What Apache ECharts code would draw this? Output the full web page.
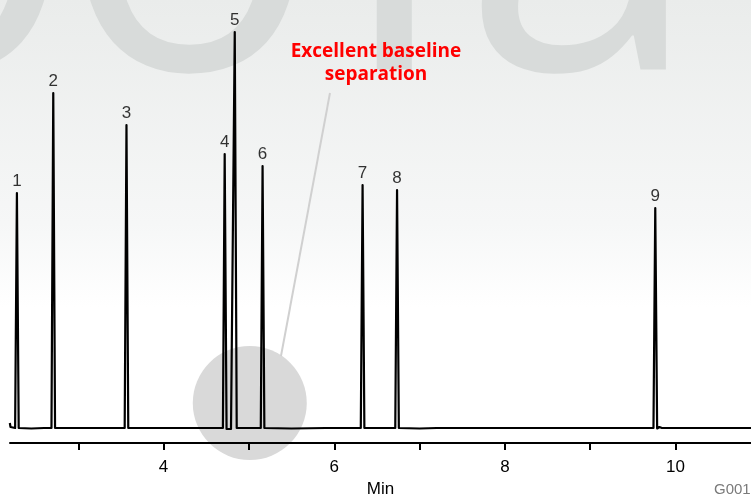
<!DOCTYPE html>
<html>
<head>
<meta charset="utf-8">
<script src="https://cdn.jsdelivr.net/npm/echarts@6/dist/echarts.min.js"></script>
<style>
  html, body { margin: 0; padding: 0; background: #fff; }
  #main { width: 751px; height: 496px; }
</style>
</head>
<body>
<div id="main"></div>
<script>
// peaks (retention time in min, height in detector units)
var peakNames = ['1', '2', '3', '4', '5', '6', '7', '8', '9'];
var peakTimes = [2.281, 2.707, 3.565, 4.716, 4.834, 5.160, 6.332, 6.736, 9.762];
var peakHeights = [235, 335, 303, 274, 396, 262, 243, 238, 220];

// detector trace [min, signal]
var trace = [
    [2.198, 5], [2.206, 1], [2.225, 0], [2.260, 0], [2.281, 235], [2.302, 0],
    [2.450, -0.5], [2.600, 0], [2.686, 0], [2.707, 335], [2.728, 0],
    [3.100, 0], [3.544, 0], [3.565, 303], [3.586, 0],
    [4.200, 0], [4.695, 0], [4.716, 274], [4.738, -1], [4.790, -1],
    [4.813, 0], [4.834, 396], [4.857, 0], [5.000, 0],
    [5.139, 0], [5.160, 262], [5.181, 0], [5.500, -0.5], [5.900, 0],
    [6.311, 0], [6.332, 243], [6.353, 0], [6.500, 0], [6.520, 1.5], [6.540, 0],
    [6.715, 0], [6.736, 238], [6.757, 0], [7.000, -0.5], [7.200, 0], [7.220, 1.5], [7.240, 0],
    [8.500, 0], [9.741, 0], [9.762, 220], [9.784, -0.5], [9.810, 1], [9.840, 0],
    [10.884, 0]
];

// grey highlight circle and its leader line
var highlight = [[5.01, 25]];
var calloutLine = [[5.95, 335], [5.376, 72]];

var tickValues = [3, 4, 5, 6, 7, 8, 9, 10];
var labelValues = [4, 6, 8, 10];

var myChart = echarts.init(document.getElementById('main'));

var peakData = [];
for (var i = 0; i < peakTimes.length; i++) {
    peakData.push([peakTimes[i], peakHeights[i], peakNames[i]]);
}

var wm = '400 430px "Open Sans"';
var wmColor = '#d8dbda';

var option = {
    animation: false,
    backgroundColor: '#fff',
    graphic: [
        {
            type: 'rect', z: -100, silent: true,
            shape: { x: 0, y: 0, width: 751, height: 496 },
            style: {
                fill: new echarts.graphic.LinearGradient(0, 0, 0, 1, [
                    { offset: 0, color: '#eaeceb' },
                    { offset: 0.45, color: '#f6f7f7' },
                    { offset: 0.62, color: '#ffffff' },
                    { offset: 1, color: '#ffffff' }
                ])
            }
        },
        { type: 'text', z: -90, silent: true, left: -185, top: -268,
          style: { text: 'o', font: wm, fill: wmColor } },
        { type: 'text', z: -90, silent: true, left: 60, top: -268,
          style: { text: 'o', font: wm, fill: wmColor } },
        { type: 'text', z: -90, silent: true, left: 340, top: -268,
          style: { text: 'r', font: wm, fill: wmColor } },
        { type: 'text', z: -90, silent: true, left: 462, top: -268,
          style: { text: 'a', font: wm, fill: wmColor } },
        {
            type: 'text', z: 10, silent: true,
            style: {
                text: 'Excellent baseline\nseparation',
                textAlign: 'center',
                font: 'bold 19px "Open Sans"', lineHeight: 23, fill: '#ff0000'
            },
            position: [376, 40]
        },
        {
            type: 'text', z: 10, left: 714, top: 482,
            style: { text: 'G00123', font: '15px "Liberation Sans"', fill: '#7a7a7a' }
        }
    ],
    grid: { left: 10, right: 0, top: 28, bottom: 53, outerBoundsMode: 'none' },
    xAxis: {
        type: 'value',
        min: 2.2,
        max: 10.884,
        name: 'Min',
        nameLocation: 'middle',
        nameGap: 38,
        nameTextStyle: { fontSize: 17, color: '#000', fontFamily: 'Liberation Sans' },
        axisLine: { onZero: false, lineStyle: { color: '#000', width: 2 } },
        axisTick: { customValues: tickValues, length: 7, lineStyle: { color: '#000', width: 2 } },
        axisLabel: {
            customValues: labelValues, fontSize: 17, color: '#000',
            fontFamily: 'Liberation Sans', margin: 16
        },
        splitLine: { show: false }
    },
    yAxis: { type: 'value', min: -15, max: 400, show: false },
    series: [
        {
            name: 'highlight', type: 'scatter', z: -1, clip: false, silent: true,
            symbolSize: 114, itemStyle: { color: '#d9d9d9', opacity: 1 },
            data: highlight
        },
        {
            name: 'callout', type: 'line', z: 1, silent: true, symbol: 'none',
            lineStyle: { color: '#d0d0d0', width: 2 },
            data: calloutLine
        },
        {
            name: 'signal', type: 'line', z: 3, symbol: 'none',
            lineStyle: { color: '#000', width: 2.2, join: 'round' },
            data: trace
        },
        {
            name: 'peaks', type: 'scatter', z: 4, symbolSize: 0, clip: false,
            label: {
                show: true, position: 'top', distance: 3,
                fontSize: 17, color: '#000', fontFamily: 'Liberation Sans',
                formatter: function (p) { return p.value[2]; }
            },
            data: peakData
        }
    ]
};

myChart.setOption(option);

window.onresize = function () {
    myChart.resize();
};
</script>
</body>
</html>
